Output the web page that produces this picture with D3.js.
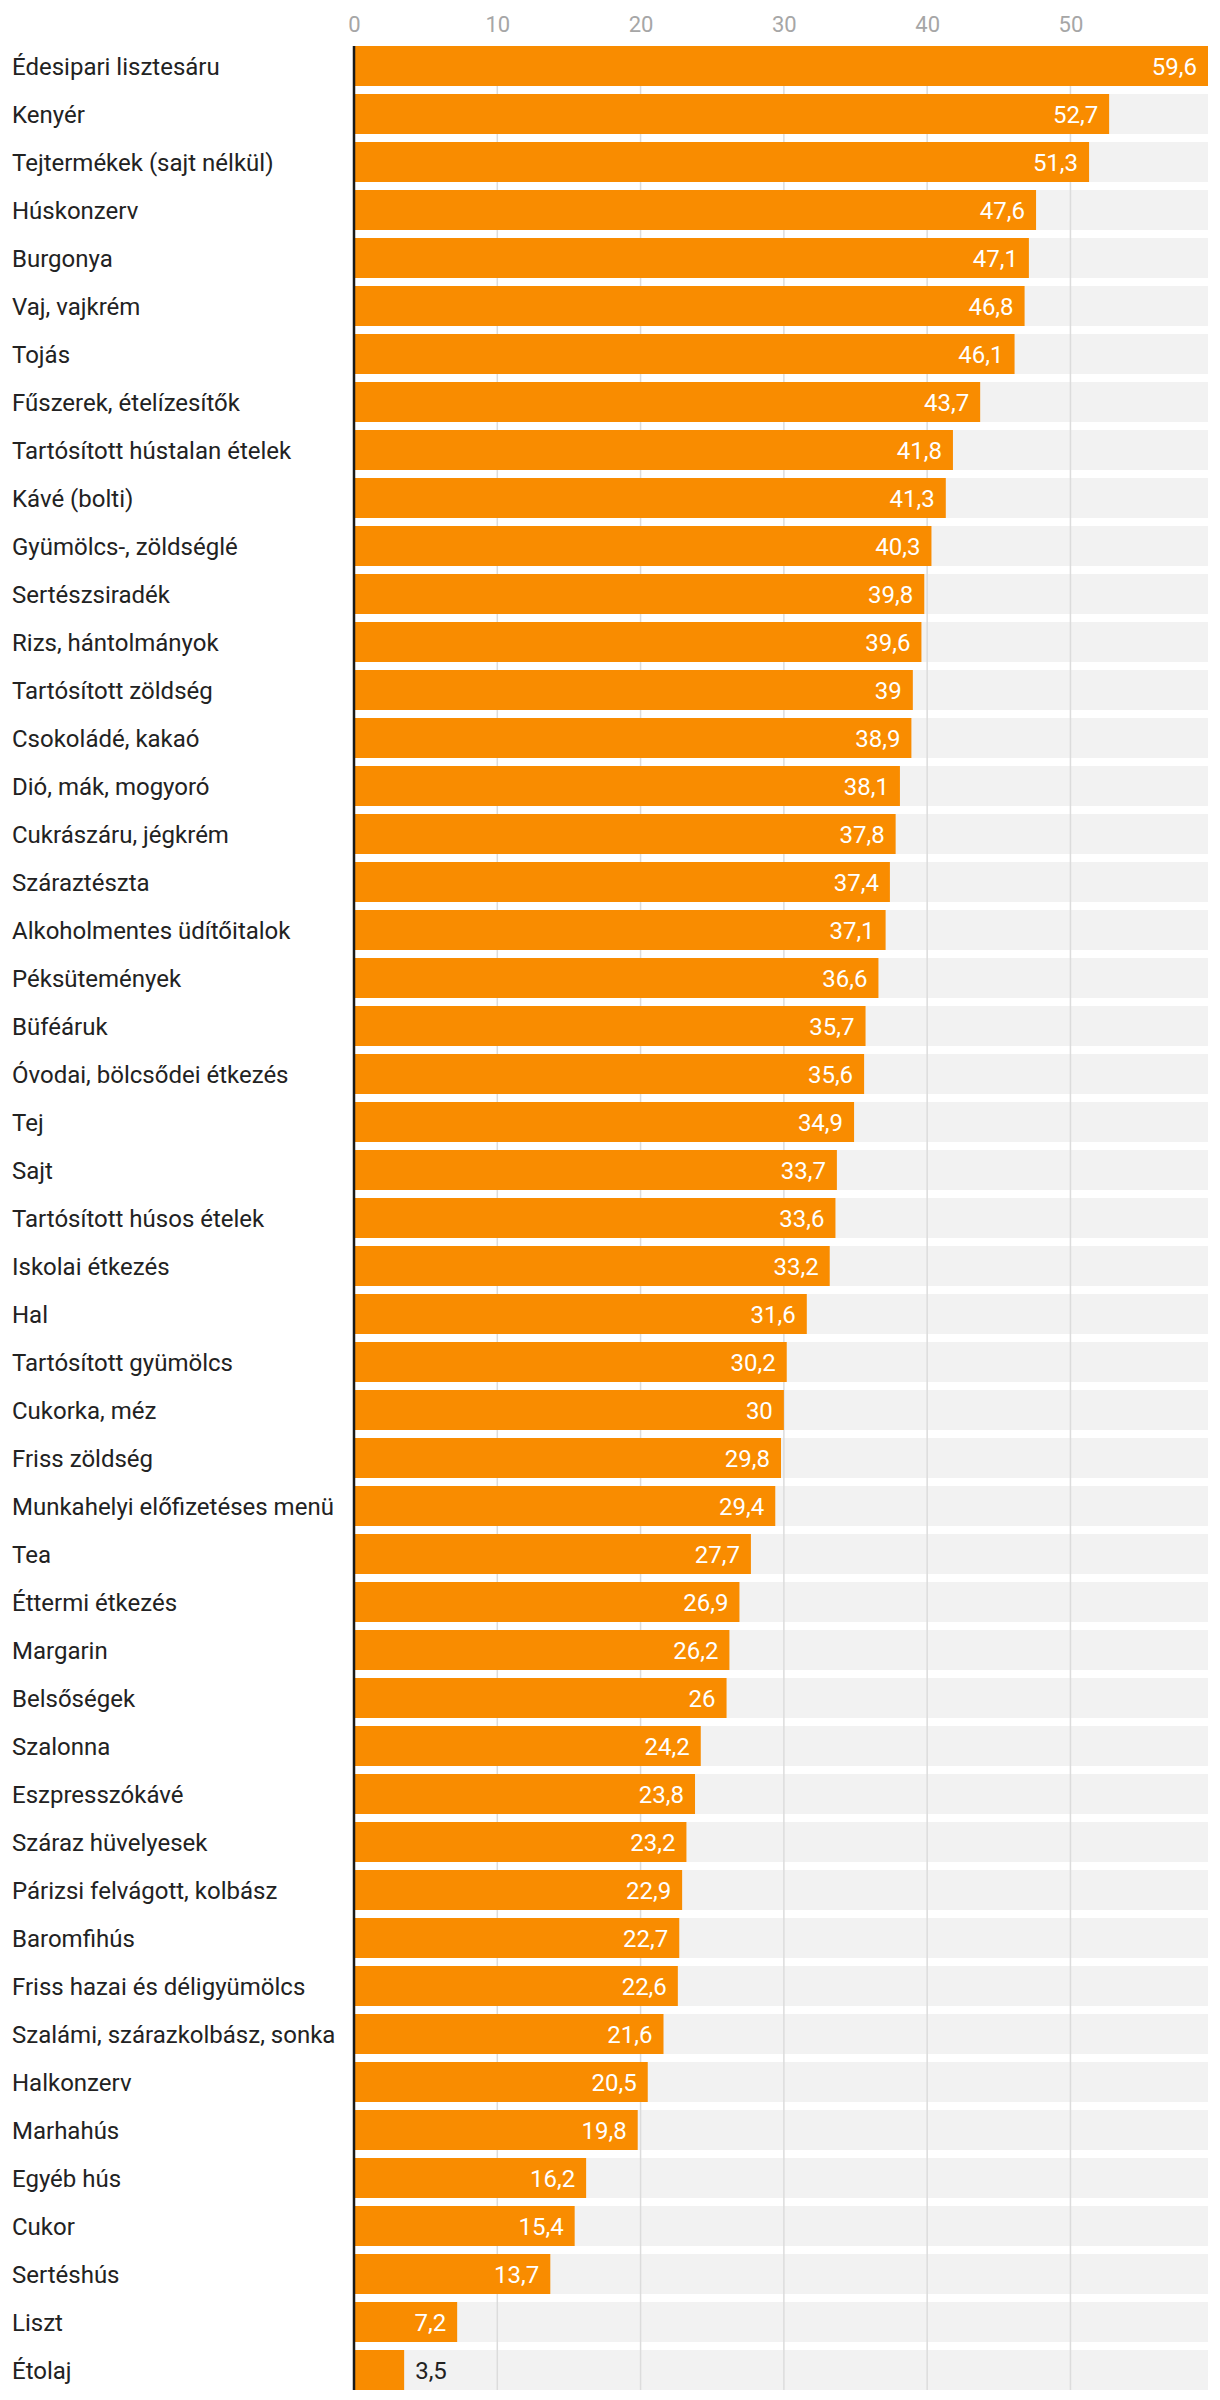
<!DOCTYPE html>
<html>
<head>
<meta charset="utf-8">
<script src="https://cdn.jsdelivr.net/npm/d3@7"></script>
<style>
  html, body { margin: 0; padding: 0; background: #fff; }
  svg { display: block; font-family: Roboto, "Noto Sans", sans-serif; }
</style>
</head>
<body>
<svg id="chart" width="1220" height="2400"></svg>
<script>
const categories = [
  "Édesipari lisztesáru", "Kenyér", "Tejtermékek (sajt nélkül)", "Húskonzerv", "Burgonya",
  "Vaj, vajkrém", "Tojás", "Fűszerek, ételízesítők", "Tartósított hústalan ételek", "Kávé (bolti)",
  "Gyümölcs-, zöldséglé", "Sertészsiradék", "Rizs, hántolmányok", "Tartósított zöldség", "Csokoládé, kakaó",
  "Dió, mák, mogyoró", "Cukrászáru, jégkrém", "Száraztészta", "Alkoholmentes üdítőitalok", "Péksütemények",
  "Büféáruk", "Óvodai, bölcsődei étkezés", "Tej", "Sajt", "Tartósított húsos ételek",
  "Iskolai étkezés", "Hal", "Tartósított gyümölcs", "Cukorka, méz", "Friss zöldség",
  "Munkahelyi előfizetéses menü", "Tea", "Éttermi étkezés", "Margarin", "Belsőségek",
  "Szalonna", "Eszpresszókávé", "Száraz hüvelyesek", "Párizsi felvágott, kolbász", "Baromfihús",
  "Friss hazai és déligyümölcs", "Szalámi, szárazkolbász, sonka", "Halkonzerv", "Marhahús", "Egyéb hús",
  "Cukor", "Sertéshús", "Liszt", "Étolaj"
];
const values = [
  59.6, 52.7, 51.3, 47.6, 47.1,
  46.8, 46.1, 43.7, 41.8, 41.3,
  40.3, 39.8, 39.6, 39, 38.9,
  38.1, 37.8, 37.4, 37.1, 36.6,
  35.7, 35.6, 34.9, 33.7, 33.6,
  33.2, 31.6, 30.2, 30, 29.8,
  29.4, 27.7, 26.9, 26.2, 26,
  24.2, 23.8, 23.2, 22.9, 22.7,
  22.6, 21.6, 20.5, 19.8, 16.2,
  15.4, 13.7, 7.2, 3.5
];
const tickValues = [0, 10, 20, 30, 40, 50];

const data = categories.map((c, i) => ({ cat: c, val: values[i] }));
const fmt = v => String(v).replace(".", ",");

const svg = d3.select("#chart");
const xMax = d3.max(values);
const x = d3.scaleLinear().domain([0, xMax]).range([354, 1208]);
const y = d3.scaleBand().domain(categories).range([46, 46 + 48 * (categories.length - 1 / 6)])
  .paddingInner(1 / 6).paddingOuter(0);

// background bars
svg.append("g").selectAll("rect").data(data).join("rect")
  .attr("x", x(0)).attr("y", d => y(d.cat))
  .attr("width", x(xMax) - x(0)).attr("height", y.bandwidth())
  .attr("fill", "#f2f2f2");

// gridlines
const yTop = y(categories[0]);
const yBottom = y(categories[categories.length - 1]) + y.bandwidth();
svg.append("g").selectAll("line").data(tickValues.filter(t => t > 0)).join("line")
  .attr("x1", d => x(d)).attr("x2", d => x(d))
  .attr("y1", yTop).attr("y2", yBottom)
  .attr("stroke", "#dcdcdc").attr("stroke-width", 1.5);

// tick labels (top axis)
const axis = d3.axisTop(x).tickValues(tickValues).tickSize(0).tickPadding(0).tickFormat(d => d);
const ag = svg.append("g").attr("transform", "translate(0,32)").call(axis);
ag.select(".domain").remove();
ag.selectAll("text").attr("fill", "#a6a6a6").attr("font-size", 22)
  .attr("font-family", "Roboto, sans-serif").attr("dy", 0);

// bars
svg.append("g").selectAll("rect").data(data).join("rect")
  .attr("x", x(0)).attr("y", d => y(d.cat))
  .attr("width", d => x(d.val) - x(0)).attr("height", y.bandwidth())
  .attr("fill", "#f98c00");

// axis line
svg.append("line")
  .attr("x1", x(0)).attr("x2", x(0))
  .attr("y1", yTop).attr("y2", yBottom)
  .attr("stroke", "#1a1a1a").attr("stroke-width", 2.5);

// category labels
svg.append("g").selectAll("text").data(data).join("text")
  .attr("x", 12).attr("y", d => y(d.cat) + y.bandwidth() / 2)
  .attr("dy", "0.36em")
  .attr("font-size", 24).attr("fill", "#222")
  .text(d => d.cat);

// value labels
const vl = svg.append("g").selectAll("text").data(data).join("text")
  .attr("y", d => y(d.cat) + y.bandwidth() / 2)
  .attr("dy", "0.36em")
  .attr("font-size", 24)
  .text(d => fmt(d.val));
vl.each(function (d) {
  const w = this.getComputedTextLength();
  const bw = x(d.val) - x(0);
  const el = d3.select(this);
  if (bw > w + 22) {
    el.attr("x", x(d.val) - 11).attr("text-anchor", "end").attr("fill", "#fff");
  } else {
    el.attr("x", x(d.val) + 11).attr("text-anchor", "start").attr("fill", "#222");
  }
});
</script>
</body>
</html>
